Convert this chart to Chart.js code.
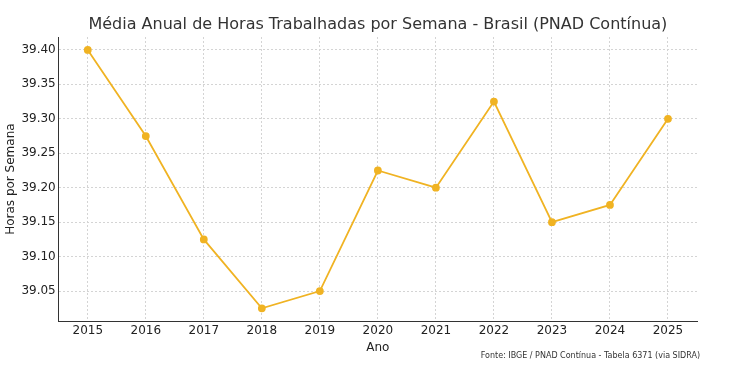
<!DOCTYPE html>
<html>
<head>
<meta charset="utf-8">
<script src="https://cdn.jsdelivr.net/npm/chart.js@4/dist/chart.umd.min.js"></script>
<style>
  html, body { margin: 0; padding: 0; background: #fff; }
  #wrap { width: 744px; height: 374px; }
</style>
</head>
<body>
<div id="wrap"><canvas id="grafico"></canvas></div>
<script>
const anos = [2015, 2016, 2017, 2018, 2019, 2020, 2021, 2022, 2023, 2024, 2025];
const horas = [39.40, 39.275, 39.125, 39.025, 39.05, 39.225, 39.20, 39.325, 39.15, 39.175, 39.30];
const ticksY = [39.05, 39.10, 39.15, 39.20, 39.25, 39.30, 39.35, 39.40];

const titulo = 'Média Anual de Horas Trabalhadas por Semana - Brasil (PNAD Contínua)';
const rodape = 'Fonte: IBGE / PNAD Contínua - Tabela 6371 (via SIDRA)';
const fonte = 'DejaVu Sans';
const cor = '#f0b323';

const pontos = anos.map((a, i) => ({ x: a, y: horas[i] }));

// titulo centrado na area do grafico + rodape no canto, como no matplotlib
const pluginTextos = {
  id: 'textosFigura',
  afterDraw(chart) {
    const { ctx, chartArea } = chart;
    ctx.save();
    ctx.font = `16px "${fonte}"`;
    ctx.fillStyle = '#333';
    ctx.textAlign = 'center';
    ctx.textBaseline = 'middle';
    ctx.fillText(titulo, (chartArea.left + chartArea.right) / 2, 25);

    ctx.font = `8px "${fonte}"`;
    ctx.textAlign = 'right';
    ctx.fillText(rodape, 700, 356);
    ctx.restore();
  }
};

new Chart(document.getElementById('grafico'), {
  type: 'line',
  data: {
    datasets: [{
      label: 'Horas',
      data: pontos,
      borderColor: cor,
      backgroundColor: cor,
      borderWidth: 1.8,
      pointRadius: 3,
      pointHoverRadius: 3,
      tension: 0,
    }]
  },
  plugins: [pluginTextos],
  options: {
    responsive: true,
    maintainAspectRatio: false,
    animation: false,
    layout: { padding: { left: 4, right: 47, top: 37, bottom: 19 } },
    plugins: {
      legend: { display: false },
      tooltip: { enabled: false }
    },
    scales: {
      x: {
        type: 'linear',
        min: 2014.5,
        max: 2025.5,
        afterBuildTicks(scale) { scale.ticks = anos.map(v => ({ value: v })); },
        ticks: {
          color: '#222',
          font: { family: fonte, size: 12 },
          callback: v => String(v),
          maxRotation: 0,
          autoSkip: false,
          padding: 2
        },
        grid: { color: '#d4d4d4', drawTicks: false },
        border: { display: true, color: '#333', width: 1, dash: [2, 2] },
        title: { display: true, text: 'Ano', color: '#222', font: { family: fonte, size: 12 }, padding: { top: 1, bottom: 0 } }
      },
      y: {
        min: 39.00625,
        max: 39.41875,
        afterBuildTicks(scale) { scale.ticks = ticksY.map(v => ({ value: v })); },
        ticks: {
          color: '#222',
          font: { family: fonte, size: 12 },
          callback: v => v.toFixed(2),
          padding: 3
        },
        grid: { color: '#d4d4d4', drawTicks: false },
        border: { display: true, color: '#333', width: 1, dash: [2, 2] },
        title: { display: true, text: 'Horas por Semana', color: '#222', font: { family: fonte, size: 12 }, padding: { top: 0, bottom: 0 } }
      }
    }
  }
});
</script>
</body>
</html>
